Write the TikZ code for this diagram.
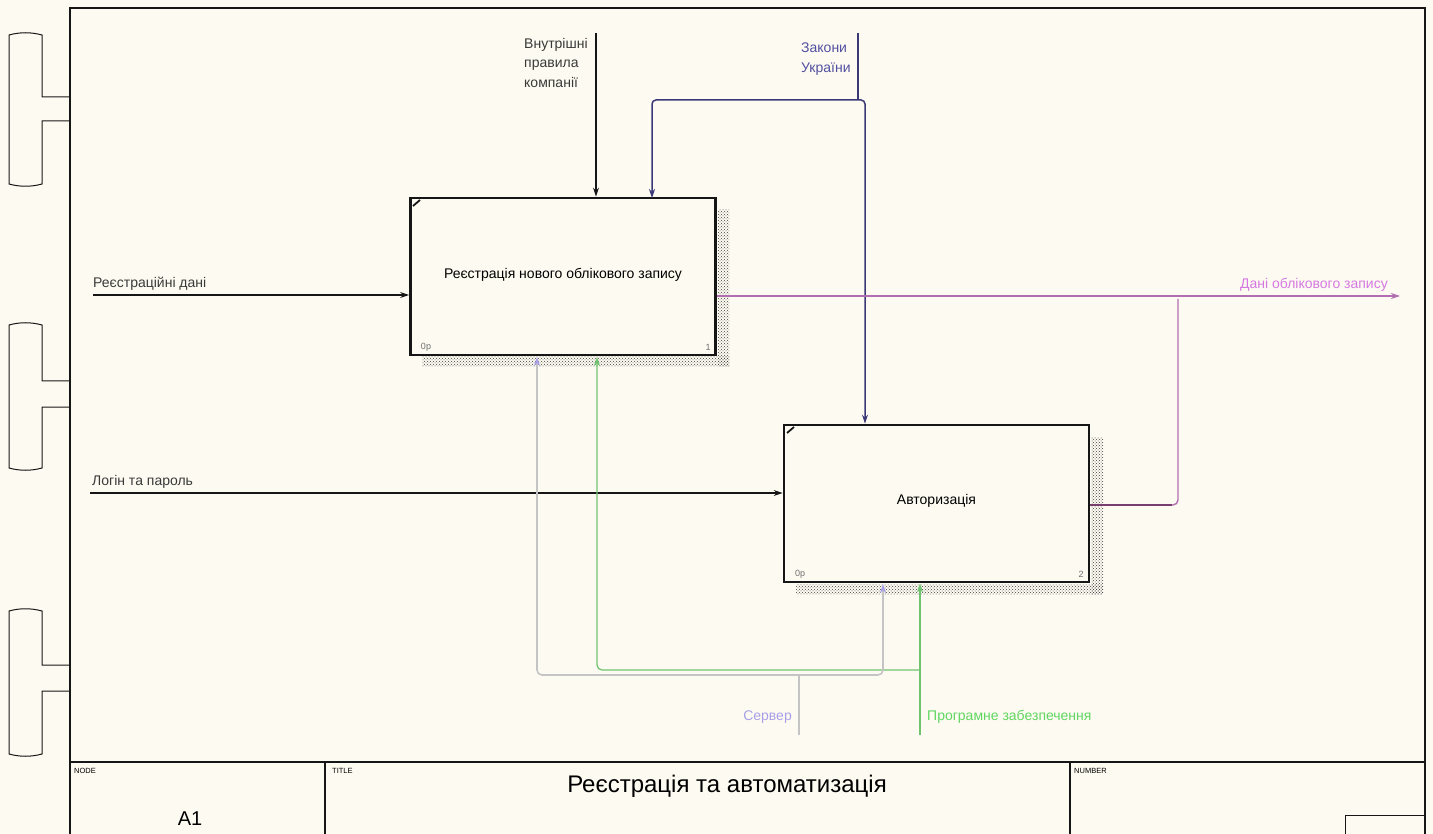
\documentclass[tikz,border=0pt]{standalone}
\usepackage{fontspec}
\setmainfont{Liberation Sans}
\usetikzlibrary{arrows.meta,patterns}

\definecolor{paper}{RGB}{253,251,241}
\definecolor{ink}{RGB}{22,22,22}
\definecolor{lawline}{RGB}{58,56,118}
\definecolor{lawtext}{RGB}{82,80,160}
\definecolor{outline}{RGB}{178,110,178}
\definecolor{outdark}{RGB}{120,62,112}
\definecolor{outtext}{RGB}{214,120,226}
\definecolor{mechgray}{RGB}{196,196,196}
\definecolor{mechlav}{RGB}{168,160,232}
\definecolor{mechgreen}{RGB}{112,196,112}
\definecolor{greentext}{RGB}{96,214,96}
\definecolor{cornergray}{RGB}{110,110,110}

\tikzset{
  lbl/.style={font=\fontsize{14}{19.5}\selectfont, inner sep=0pt, align=left},
  activity/.style={draw=ink, line width=2.8pt, fill=paper, minimum width=305pt,
    minimum height=157pt, inner sep=0pt, font=\fontsize{14}{16}\selectfont},
  tip/.style={-{Stealth[length=9pt,width=6pt]}},
  shadowfill/.style={pattern=crosshatch dots, pattern color=black!75},
  corner/.style={font=\fontsize{9}{10}\selectfont, text=cornergray, inner sep=0pt},
  tiny/.style={font=\fontsize{7.5}{9}\selectfont, inner sep=0pt, anchor=north west},
  frame/.style={draw=ink, line width=1.3pt}
}

\begin{document}
\begin{tikzpicture}[x=1pt,y=-1pt]
\useasboundingbox (0,0) rectangle (1433,834);
\fill[paper] (0,0) rectangle (1433,834);

% binding tabs on the left margin
\foreach \t/\b/\ua/\ub in {33/186/97/121, 323/470/381/407, 609/756/665/691}{
  \draw[ink, line width=1pt] (70,\ua) -- (42,\ua) -- (42,\t+2)
    .. controls (31,\t-1) and (20,\t-1) .. (9,\t+2) -- (9,\b-2)
    .. controls (20,\b+1) and (31,\b+1) .. (42,\b-2) -- (42,\ub) -- (70,\ub);
}

% sheet frame and title block
\draw[frame] (70,834) -- (70,8) -- (1425,8) -- (1425,834);
\draw[frame] (70,762) -- (1425,762);
\draw[frame] (325,762) -- (325,834);
\draw[frame] (1070,762) -- (1070,834);
\draw[ink, line width=1pt] (1345,834) -- (1345,815) -- (1425,815);

\node[tiny] (hnode) at (74,768) {NODE};
\node[tiny] (htitle) at (332,768) {TITLE};
\node[tiny] (hnum) at (1074,768) {NUMBER};
\node[font=\fontsize{20}{23}\selectfont, inner sep=0pt] (nodeid) at (190,819) {A1};
\node[font=\fontsize{24}{27}\selectfont, inner sep=0pt] (sheettitle) at (727,786)
  {Реєстрація та автоматизація};

% drop shadows of the activity boxes
\fill[shadowfill] (718,210) rectangle (729,367);
\fill[shadowfill] (422,357) rectangle (729,367);
\fill[shadowfill] (1091,437) rectangle (1103,594);
\fill[shadowfill] (796,584) rectangle (1103,594);

% activities
\node[activity] (a1) at (563,276.5) {\raisebox{7pt}{Реєстрація нового облікового запису}};
\node[activity] (a2) at (936.5,503.5) {\raisebox{8pt}{Авторизація}};

\draw[ink, line width=1.8pt] (413,206) -- (420,200);
\draw[ink, line width=1.8pt] (787,433) -- (794,427);
\node[corner] (a1cost) at (426,347) {0р};
\node[corner] (a1num) at (708,347) {1};
\node[corner] (a2cost) at (800,574) {0р};
\node[corner] (a2num) at (1081,574) {2};

% controls
\coordinate (rulesin) at (596,33);
\draw[ink, line width=1.5pt, tip] (rulesin) -- (rulesin |- a1.north);
\node[lbl, anchor=north west, text=ink!85] (rules) at (524,38)
  {Внутрішні\\правила\\компанії};

\coordinate (lawsin) at (858,33);
\coordinate (lawsfork) at (858,100);
\draw[lawline, line width=1.5pt] (lawsin) -- (lawsfork);
\draw[lawline, line width=1.5pt, tip, rounded corners=4pt]
  (lawsfork) -- (652,100) -- (652,198);
\draw[lawline, line width=1.5pt, tip, rounded corners=4pt]
  (lawsfork) -| (a2.north -| 865,0);
\node[lbl, anchor=north west, text=lawtext] (laws) at (801,43) {Закони\\України};

% inputs
\coordinate (regin) at (93,295);
\draw[ink, line width=1.5pt, tip] (regin) -- (regin -| a1.west);
\node[lbl, anchor=south west, text=ink!85] (reglbl) at (93,291) {Реєстраційні дані};

\coordinate (loginin) at (90,493);
\draw[ink, line width=1.5pt, tip] (loginin) -- (loginin -| a2.west);
\node[lbl, anchor=south west, text=ink!85] (loginlbl) at (92,489) {Логін та пароль};

% output
\coordinate (accout) at (1400,296);
\draw[outline, line width=1.4pt, tip] (a1.east |- accout) -- (accout);
\draw[outdark, line width=1.4pt] (a2.east |- 0,505) -- (1172,505);
\draw[outline, line width=1.4pt, rounded corners=5pt] (1172,505) -- (1178,505) -- (1178,299);
\node[lbl, anchor=south east, text=outtext] (acclbl) at (1388,292) {Дані облікового запису};

% mechanisms
\coordinate (softin) at (920,735);
\coordinate (softfork) at (920,670);
\draw[mechgreen, line width=1.3pt, tip] (softin) -- (softin |- a2.south);
\draw[mechgreen, line width=1.3pt, tip, rounded corners=5pt]
  (softfork) -- (597,670) -- (597,357);
\node[lbl, anchor=west, text=greentext] (softlbl) at (927,717) {Програмне забезпечення};

\coordinate (serverin) at (799,735);
\coordinate (serverfork) at (799,675);
\draw[mechgray, line width=1.6pt] (serverin) -- (serverfork);
\draw[mechgray, line width=1.6pt, -{Stealth[length=9pt,width=6pt,color=mechlav]},
  rounded corners=5pt] (serverfork) -- (537,675) -- (537,357);
\draw[mechgray, line width=1.6pt, -{Stealth[length=9pt,width=6pt,color=mechlav]},
  rounded corners=5pt] (serverfork) -- (883,675) -- (883,584);
\node[lbl, anchor=east, text=mechlav] (serverlbl) at (792,717) {Сервер};

\end{tikzpicture}
\end{document}
